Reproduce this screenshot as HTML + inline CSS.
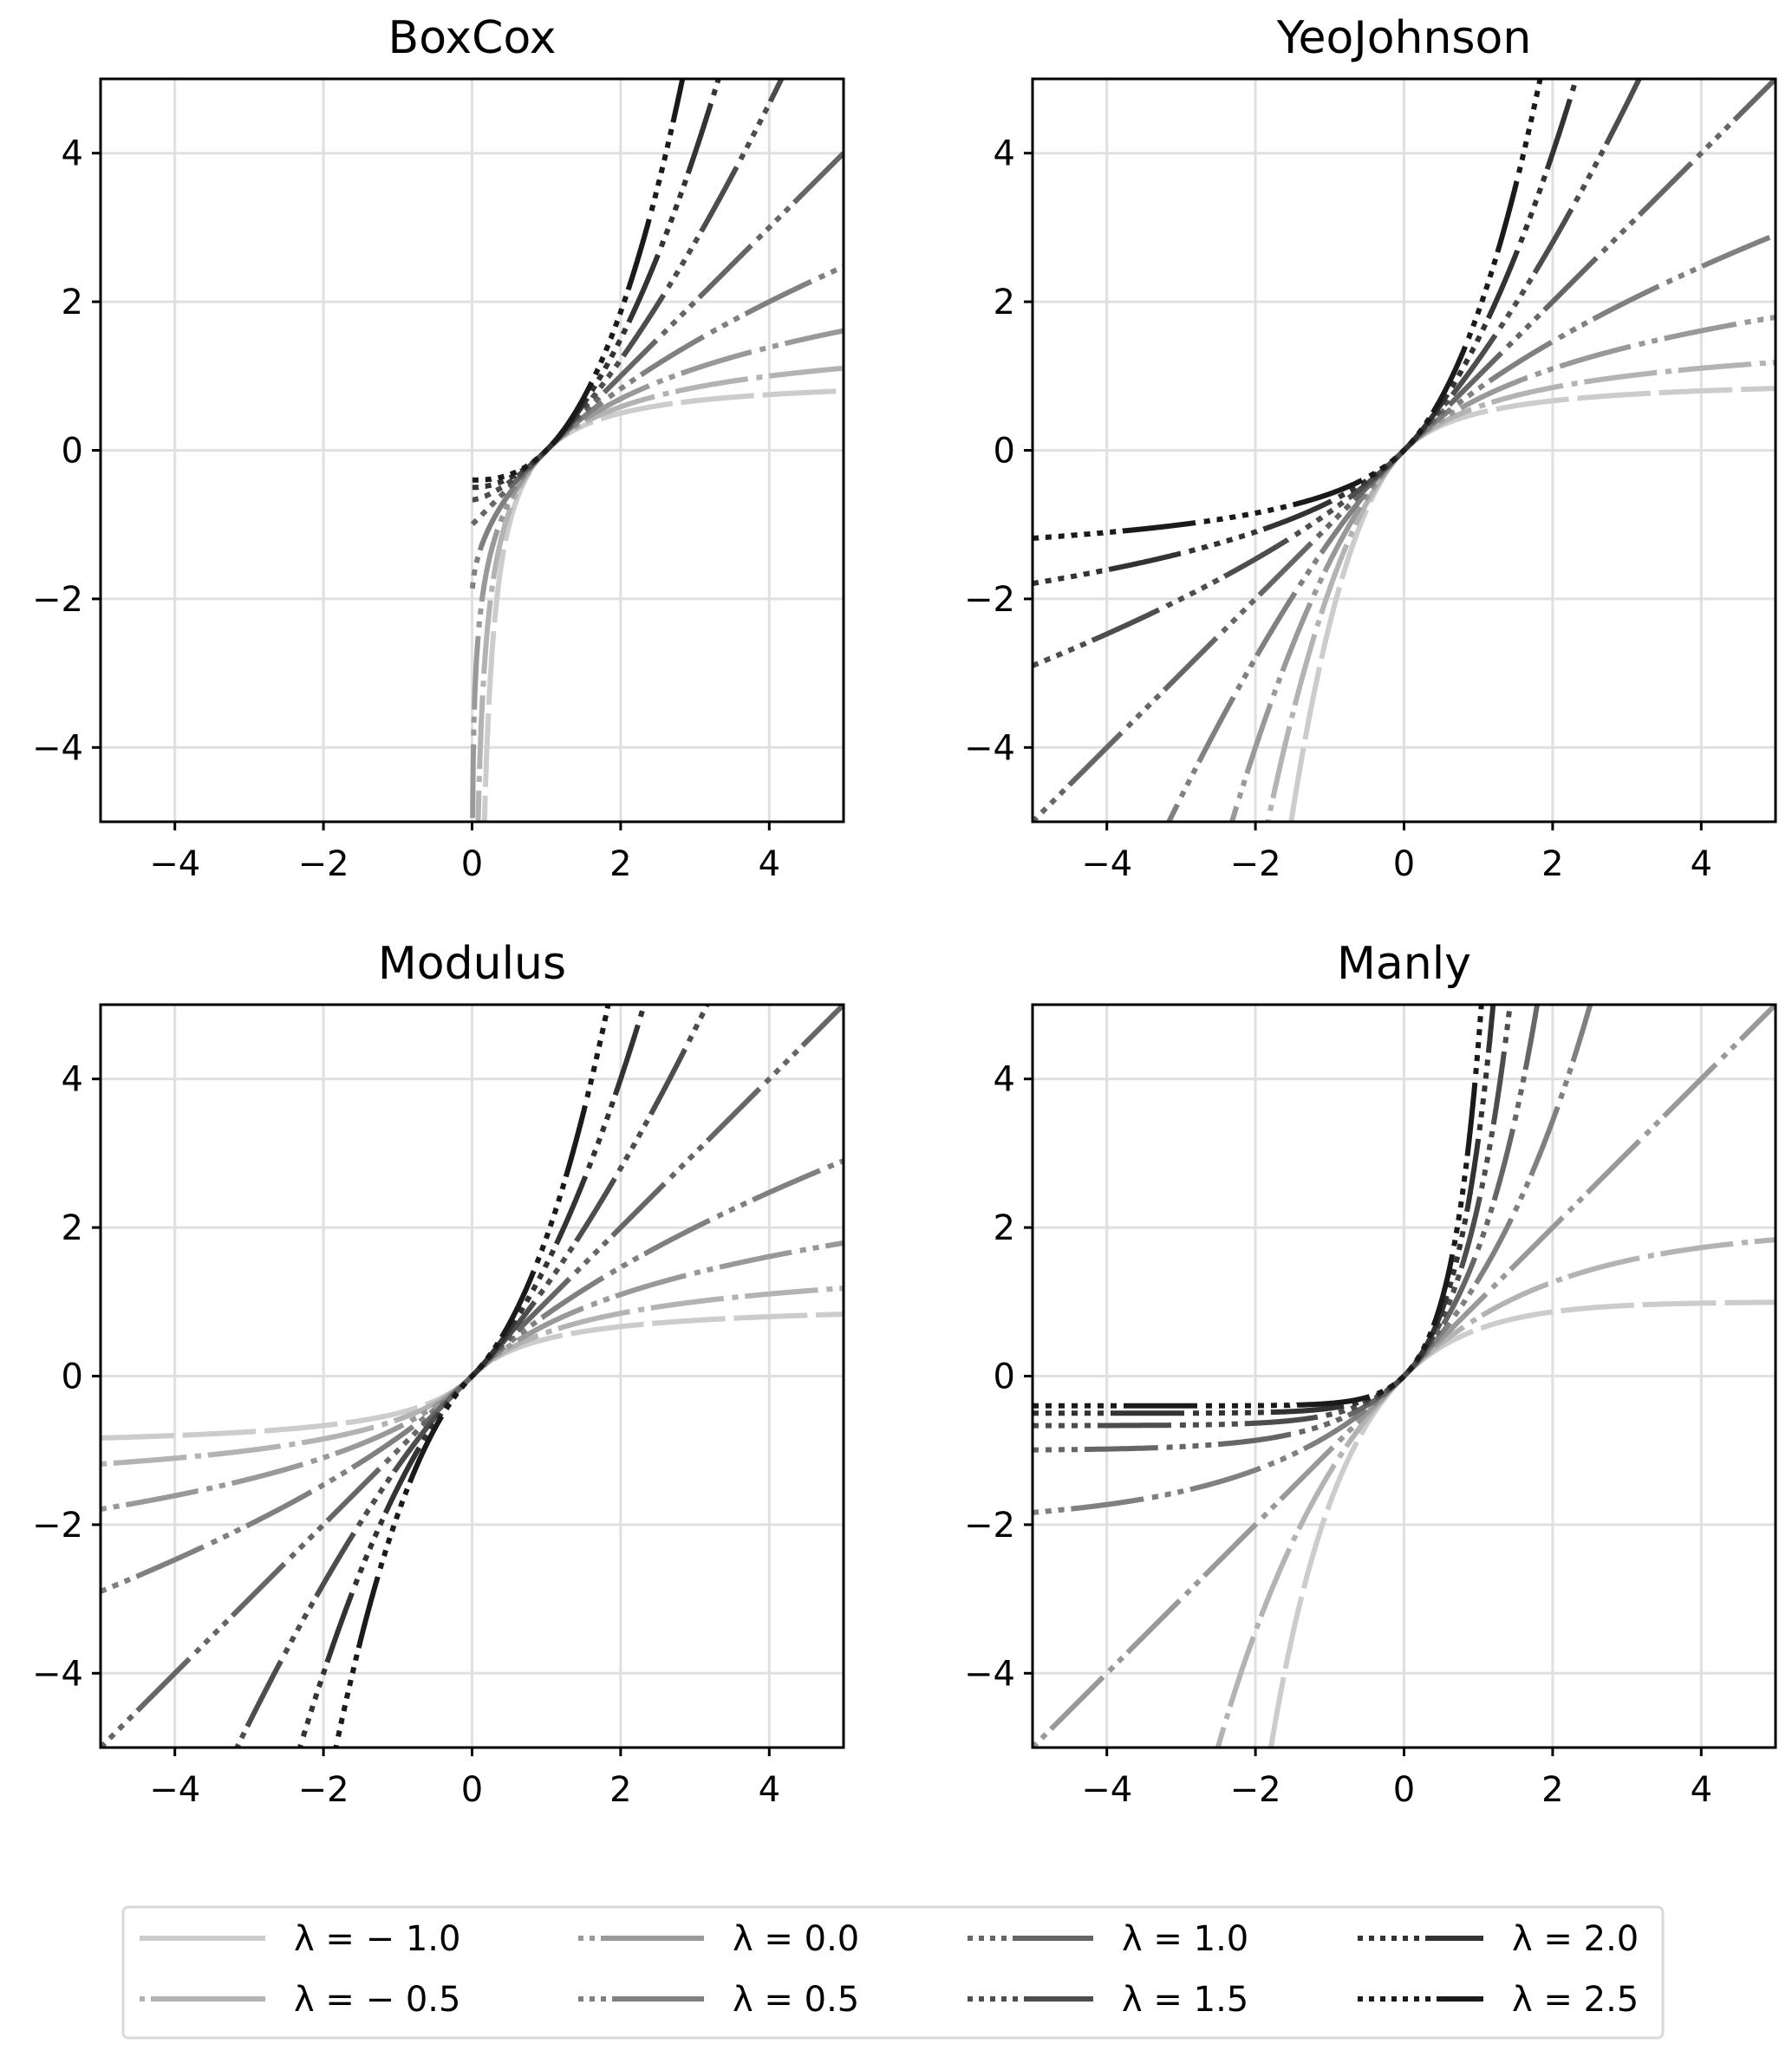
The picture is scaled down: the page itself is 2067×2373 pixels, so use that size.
<!DOCTYPE html>
<html><head><meta charset="utf-8"><style>
html,body{margin:0;padding:0;background:#fff;width:2067px;height:2373px;overflow:hidden;}
svg{display:block;font-family:"DejaVu Sans","Liberation Sans",sans-serif;}
</style></head><body>
<svg id="fig" width="2067" height="2373" viewBox="0 0 2067 2373" xmlns="http://www.w3.org/2000/svg"></svg>
<script>
const lambdas = [-1.0, -0.5, 0.0, 0.5, 1.0, 1.5, 2.0, 2.5];
const lambdaLabels = ["λ = − 1.0","λ = − 0.5","λ = 0.0","λ = 0.5","λ = 1.0","λ = 1.5","λ = 2.0","λ = 2.5"];
const colors = ["#cccccc","#b3b3b3","#999999","#808080","#666666","#4d4d4d","#333333","#1a1a1a"];
const panelTitles = ["BoxCox","YeoJohnson","Modulus","Manly"];
const tickValues = [-4,-2,0,2,4];
const tickLabels = ["−4","−2","0","2","4"];

function boxcox(x,l){ if(x<=0) return NaN; return l===0?Math.log(x):(Math.pow(x,l)-1)/l; }
function yeo(x,l){
  if(x>=0) return l===0?Math.log(x+1):(Math.pow(x+1,l)-1)/l;
  return l===2?-Math.log(1-x):-(Math.pow(1-x,2-l)-1)/(2-l);
}
function modulus(x,l){ const s=x<0?-1:1, a=Math.abs(x); return s*(l===0?Math.log(a+1):(Math.pow(a+1,l)-1)/l); }
function manly(x,l){ return l===0?x:(Math.exp(l*x)-1)/l; }
const funcs=[boxcox,yeo,modulus,manly];

const panels=[{x:116,y:91},{x:1191,y:91},{x:116,y:1159},{x:1191,y:1159}];
const W=857,H=857;
const NS="http://www.w3.org/2000/svg";
const svg=document.getElementById('fig');
function mk(tag,attrs,parent){const e=document.createElementNS(NS,tag);for(const k in attrs)e.setAttribute(k,attrs[k]);(parent||svg).appendChild(e);return e;}
function dash(i){
  const arr=[];
  for(let k=0;k<i;k++){arr.push(7,8);}
  arr.push(85,10);
  return arr.join(' ');
}
function legendDash(i){
  if(i===0) return 'none';
  const arr=[];
  for(let k=0;k<i;k++){arr.push(6,7);}
  arr.push(300,0);
  return arr.join(' ');
}
panels.forEach((p,pi)=>{
  const g=mk('g',{});
  
  
  const sx=v=>p.x+(v+5)/10*W, sy=v=>p.y+H-(v+5)/10*H;
  const cid='clip'+pi;
  const cp=mk('clipPath',{id:cid},g); mk('rect',{x:p.x,y:p.y,width:W,height:H},cp);
  tickValues.forEach((t,ti)=>{
    const gx=mk('line',{x1:sx(t),x2:sx(t),y1:p.y,y2:p.y+H,stroke:'#e0e0e0','stroke-width':3},g);
    
    
    const gy=mk('line',{x1:p.x,x2:p.x+W,y1:sy(t),y2:sy(t),stroke:'#e0e0e0','stroke-width':3},g);
    
    
    mk('line',{x1:sx(t),x2:sx(t),y1:p.y+H,y2:p.y+H+10,stroke:'#000','stroke-width':3},g);
    mk('line',{x1:p.x-10,x2:p.x,y1:sy(t),y2:sy(t),stroke:'#000','stroke-width':3},g);
    const xl=mk('text',{x:sx(t),y:p.y+H+62,'text-anchor':'middle','font-size':40,fill:'#000'},g);
    xl.textContent=tickLabels[ti];
    
    
    const yl=mk('text',{x:p.x-20,y:sy(t)+14,'text-anchor':'end','font-size':40,fill:'#000'},g);
    yl.textContent=tickLabels[ti];
    
    
  });
  const lg=mk('g',{'clip-path':'url(#'+cid+')'},g);
  lambdas.forEach((l,i)=>{
    let d='',pen=false;
    for(let k=0;k<=2000;k++){
      const x=-5+10*k/2000; let y=funcs[pi](x,l);
      if(!isFinite(y)){pen=false;continue;}
      y=Math.max(-30,Math.min(30,y));
      d+=(pen?'L':'M')+sx(x).toFixed(1)+' '+sy(y).toFixed(1);pen=true;
    }
    const path=mk('path',{d:d,fill:'none',stroke:colors[i],'stroke-width':6,'stroke-dasharray':dash(i)},lg);
    
    
  });
  mk('rect',{x:p.x,y:p.y,width:W,height:H,fill:'none',stroke:'#000','stroke-width':3},g);
  const tt=mk('text',{x:p.x+W/2,y:p.y-30,'text-anchor':'middle','font-size':52,fill:'#000'},g);
  tt.textContent=panelTitles[pi];
  
  
});
// legend
const leg=mk('g',{});


mk('rect',{x:142,y:2200,width:1776,height:151,rx:6,fill:'#fff',stroke:'#d9d9d9','stroke-width':3},leg);
const colX=[161,667,1116,1566], rowY=[2236,2306];
lambdas.forEach((l,i)=>{
  const c=Math.floor(i/2), r=i%2;
  const e=mk('g',{},leg);
  
  
  mk('line',{x1:colX[c],x2:colX[c]+145,y1:rowY[r],y2:rowY[r],stroke:colors[i],'stroke-width':6,'stroke-dasharray':legendDash(i)},e);
  const t=mk('text',{x:colX[c]+178,y:rowY[r]+14,'font-size':40,fill:'#000'},e);
  t.textContent=lambdaLabels[i];
});
</script>
</body></html>
